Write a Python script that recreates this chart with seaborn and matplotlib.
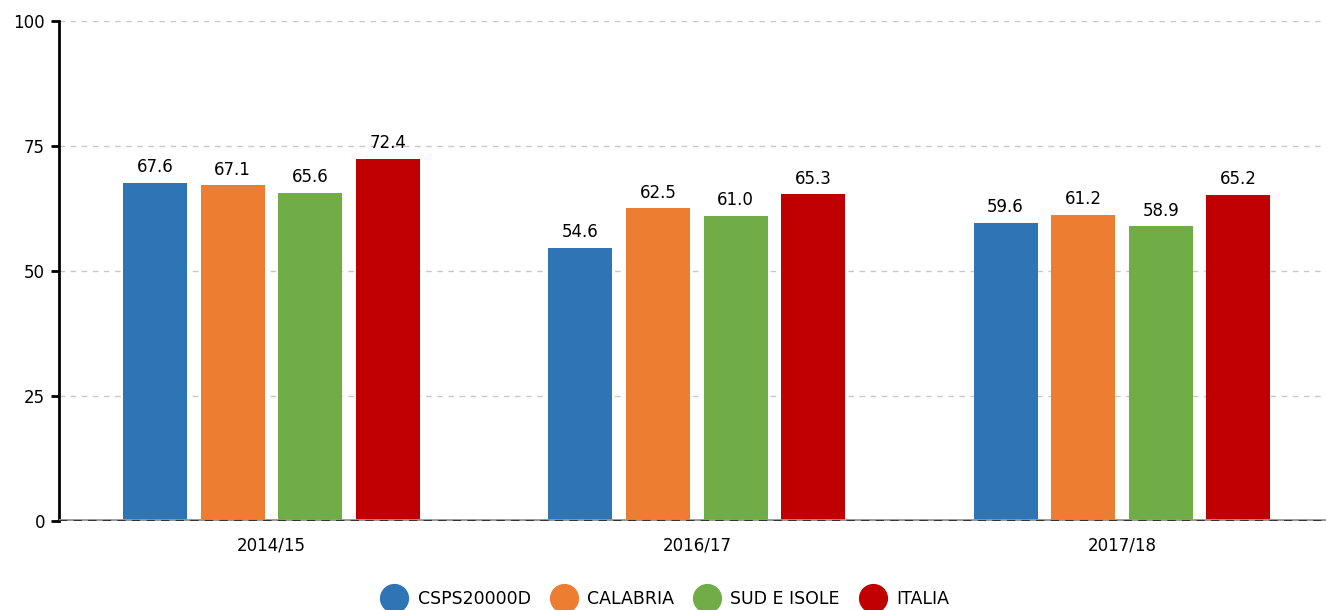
import pandas as pd
import matplotlib
matplotlib.use('Agg')
import matplotlib.pyplot as plt
from matplotlib.lines import Line2D
import seaborn as sns

years = ["2014/15", "2016/17", "2017/18"]
series = ["CSPS20000D", "CALABRIA", "SUD E ISOLE", "ITALIA"]
csps = [67.6, 54.6, 59.6]
calabria = [67.1, 62.5, 61.2]
sud = [65.6, 61.0, 58.9]
italia = [72.4, 65.3, 65.2]
colors = ["#2E75B6", "#ED7D31", "#70AD47", "#C00000"]

rows = []
for name, vals in zip(series, [csps, calabria, sud, italia]):
    for y, v in zip(years, vals):
        rows.append({"Anno": y, "Serie": name, "Valore": v})
df = pd.DataFrame(rows)

sns.set_style("white")
plt.rcParams['font.family'] = ['DejaVu Sans']
plt.rcParams['text.color'] = 'black'
plt.rcParams['xtick.color'] = 'black'
plt.rcParams['ytick.color'] = 'black'

fig = plt.figure(figsize=(13.26, 6.10), dpi=100)
ax = fig.add_axes([0.0445, 0.146, 0.9555, 0.8196])

sns.barplot(data=df, x="Anno", y="Valore", hue="Serie", order=years,
            hue_order=series, palette=colors, width=0.73, gap=0.175,
            saturation=1, legend=False, linewidth=0, ax=ax)

for cont in ax.containers:
    ax.bar_label(cont, fmt="%.1f", padding=5, fontsize=12, color="black",
                 family="DejaVu Sans")

ax.set_ylim(0, 100)
ax.set_xlim(-0.5, 2.48)
ax.set_yticks([0, 25, 50, 75, 100])
ax.yaxis.grid(True, linestyle=(0, (4, 4)), color="#c8c8c8", linewidth=1)
ax.set_axisbelow(True)
ax.set_xlabel("")
ax.set_ylabel("")
for s in ["top", "right", "bottom"]:
    ax.spines[s].set_visible(False)
ax.spines["left"].set_color("black")
ax.spines["left"].set_linewidth(2)
ax.axhline(0, color="#999999", linewidth=3.5, zorder=3)
ax.axhline(0, color="#333333", linewidth=1.5, linestyle=(0, (4, 3)), zorder=4)
ax.tick_params(axis="y", left=True, length=6, width=2, color="black",
               labelcolor="black", labelsize=12, pad=4)
ax.tick_params(axis="x", bottom=False, labelcolor="black", labelsize=12, pad=8)
for lbl in ax.get_xticklabels() + ax.get_yticklabels():
    lbl.set_family("DejaVu Sans")

handles = [Line2D([0], [0], marker="o", linestyle="", markersize=20,
                  markerfacecolor=c, markeredgecolor=c) for c in colors]
fig.legend(handles, series, loc="lower center", bbox_to_anchor=(0.5, -0.022),
           ncol=4, frameon=False, handletextpad=0.35, columnspacing=0.9,
           prop={"family": "DejaVu Sans", "size": 12.5})

fig.savefig("out.png", dpi=100)
